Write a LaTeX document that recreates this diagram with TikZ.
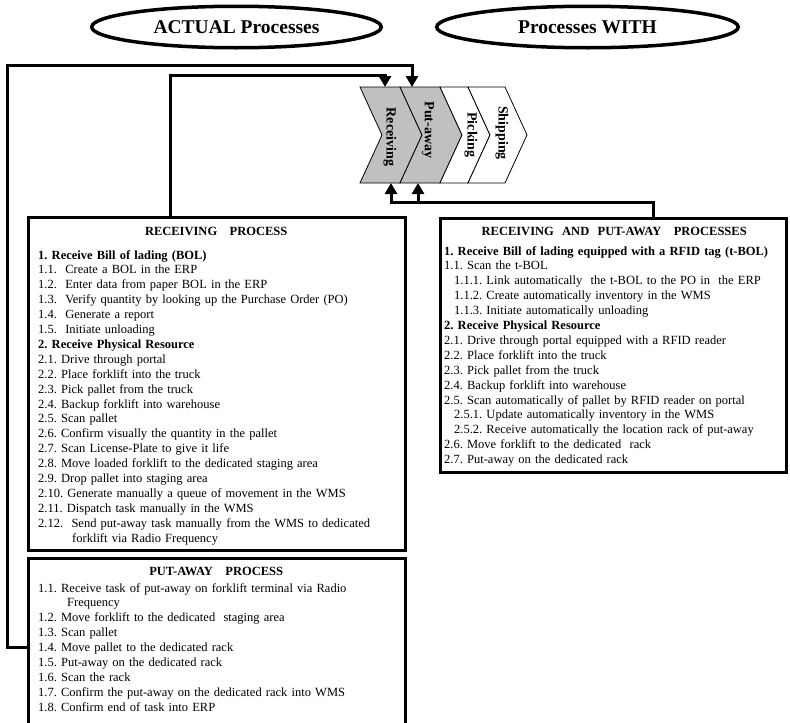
\documentclass[tikz,border=0pt]{standalone}
\usepackage{fontspec}
\setmainfont{Liberation Serif}
\usepackage{tikz}
\definecolor{RFIDgray}{HTML}{C0C0C0}
\usetikzlibrary{arrows.meta, shapes.geometric, positioning}

\begin{document}
\begin{tikzpicture}[x=1pt, y=-1pt]
  \tikzset{
  headoval/.style={ellipse, draw, line width=3.5pt, inner sep=0, outer sep=0,
                   font=\fontsize{19.5}{22}\selectfont\bfseries},
  procbox/.style={draw, line width=3pt, inner sep=0, outer sep=0, anchor=north west},
  boxtext/.style={font=\fontsize{12.5}{14.9}\selectfont\frenchspacing, align=left,
                  inner sep=0, anchor=base west},
  chevron/.style={draw, line width=0.8pt},
  chevlab/.style={rotate=-90, font=\fontsize{14}{16}\selectfont\bfseries, inner sep=0},
  flowline/.style={line width=3pt, -{Triangle[length=11pt, width=12pt]}},
}
\useasboundingbox (0,0) rectangle (790,723);
\clip (0,0) rectangle (790,723);

% ── Headings ────────────────────────────────────────────────
\node[headoval, minimum width=289.5pt, minimum height=41.5pt]
  (actualoval) at (236.5,27) {ACTUAL Processes};
\node[headoval, minimum width=301.5pt, minimum height=41.5pt]
  (withoval) at (587.5,27) {Processes WITH};

% ── Warehouse chevrons ──────────────────────────────────────
\filldraw[chevron, fill=RFIDgray] (360,87) -- (400,87) -- (422,135)
  -- (400,183) -- (360,183) -- (382,135) -- cycle;
\filldraw[chevron, fill=RFIDgray] (400,87) -- (440,87) -- (462,135)
  -- (440,183) -- (400,183) -- (422,135) -- cycle;
\filldraw[chevron, fill=white] (440,87) -- (468,87) -- (490,135)
  -- (468,183) -- (440,183) -- (462,135) -- cycle;
\filldraw[chevron, fill=white] (468,87) -- (505,87) -- (527,135)
  -- (505,183) -- (468,183) -- (490,135) -- cycle;

\node[chevlab] (recvlab) at (390,137) {Receiving};
\node[chevlab] (putlab)  at (428,130) {Put-away};
\node[chevlab] (picklab) at (471,135) {Picking};
\node[chevlab] (shiplab) at (502,133) {Shipping};

% arrow ends on the chevrons
\coordinate (recvN) at (385,87);
\coordinate (putN)  at (412,87);
\coordinate (recvS) at (391,183);
\coordinate (putS)  at (418,183);

% ── RECEIVING PROCESS (actual) ──────────────────────────────
\node[procbox, minimum width=377pt, minimum height=333pt] (recvbox) at (28.5,217) {};
\node[boxtext, text width=356pt] (recvtext) at (38,235) {%
  \makebox[\linewidth]{\bfseries RECEIVING~~~PROCESS}\\[9.1pt]
  \textbf{1. Receive Bill of lading (BOL)}\\
  1.1.~~Create a BOL in the ERP\\
  1.2.~~Enter data from paper BOL in the ERP\\
  1.3.~~Verify quantity by looking up the Purchase Order (PO)\\
  1.4.~~Generate a report\\
  1.5.~~Initiate unloading\\
  \textbf{2. Receive Physical Resource}\\
  2.1. Drive through portal\\
  2.2. Place forklift into the truck\\
  2.3. Pick pallet from the truck\\
  2.4. Backup forklift into warehouse\\
  2.5. Scan pallet\\
  2.6. Confirm visually the quantity in the pallet\\
  2.7. Scan License-Plate to give it life\\
  2.8. Move loaded forklift to the dedicated staging area\\
  2.9. Drop pallet into staging area\\
  2.10. Generate manually a queue of movement in the WMS\\
  2.11. Dispatch task manually in the WMS\\
  \makebox[\linewidth][s]{2.12.~~Send put-away task manually from the WMS to dedicated}\\
  \hspace*{34pt}forklift via Radio Frequency};

% ── PUT-AWAY PROCESS (actual) ───────────────────────────────
\node[procbox, minimum width=377pt, minimum height=190pt] (putbox) at (28.5,558) {};
\node[boxtext, text width=356pt] (puttext) at (38,575) {%
  \makebox[\linewidth]{\bfseries PUT-AWAY~~~PROCESS}\\[2.1pt]
  1.1. Receive task of put-away on forklift terminal via Radio\\
  \hspace*{29pt}Frequency\\
  1.2. Move forklift to the dedicated~~staging area\\
  1.3. Scan pallet\\
  1.4. Move pallet to the dedicated rack\\
  1.5. Put-away on the dedicated rack\\
  1.6. Scan the rack\\
  1.7. Confirm the put-away on the dedicated rack into WMS\\
  1.8. Confirm end of task into ERP};

% ── RECEIVING AND PUT-AWAY (with RFID) ──────────────────────
\node[procbox, minimum width=346pt, minimum height=254pt] (rfidbox) at (440,218) {};
\node[boxtext, text width=340pt] (rfidtext) at (444,235) {%
  \makebox[\linewidth]{\bfseries RECEIVING~~AND~~PUT-AWAY~~~PROCESSES}\\[5.1pt]
  \textbf{1. Receive Bill of lading equipped with a RFID tag (t-BOL)}\\
  1.1. Scan the t-BOL\\
  \hspace*{10pt}1.1.1. Link automatically~~the t-BOL to the PO in~~the ERP\\
  \hspace*{10pt}1.1.2. Create automatically inventory in the WMS\\
  \hspace*{10pt}1.1.3. Initiate automatically unloading\\
  \textbf{2. Receive Physical Resource}\\
  2.1. Drive through portal equipped with a RFID reader\\
  2.2. Place forklift into the truck\\
  2.3. Pick pallet from the truck\\
  2.4. Backup forklift into warehouse\\
  2.5. Scan automatically of pallet by RFID reader on portal\\
  \hspace*{10pt}2.5.1. Update automatically inventory in the WMS\\
  \hspace*{10pt}2.5.2. Receive automatically the location rack of put-away\\
  2.6. Move forklift to the dedicated~~rack\\
  2.7. Put-away on the dedicated rack};

% ── Connectors ──────────────────────────────────────────────
% receiving box up to Receiving
\draw[flowline] ([xshift=141.5pt]recvbox.north west) |- ([yshift=12pt]recvN) -- (recvN);
% put-away box round the left side up to Put-away
\draw[flowline] ([yshift=-89pt]putbox.north west) -| (7,65) -| (putN);
% RFID box up into both chevrons
\draw[flowline] ([xshift=213pt]rfidbox.north west) |- ([yshift=-19pt]recvS) -- (recvS);
\draw[flowline] ([yshift=-19pt]putS) -- (putS);

\end{tikzpicture}
\end{document}
